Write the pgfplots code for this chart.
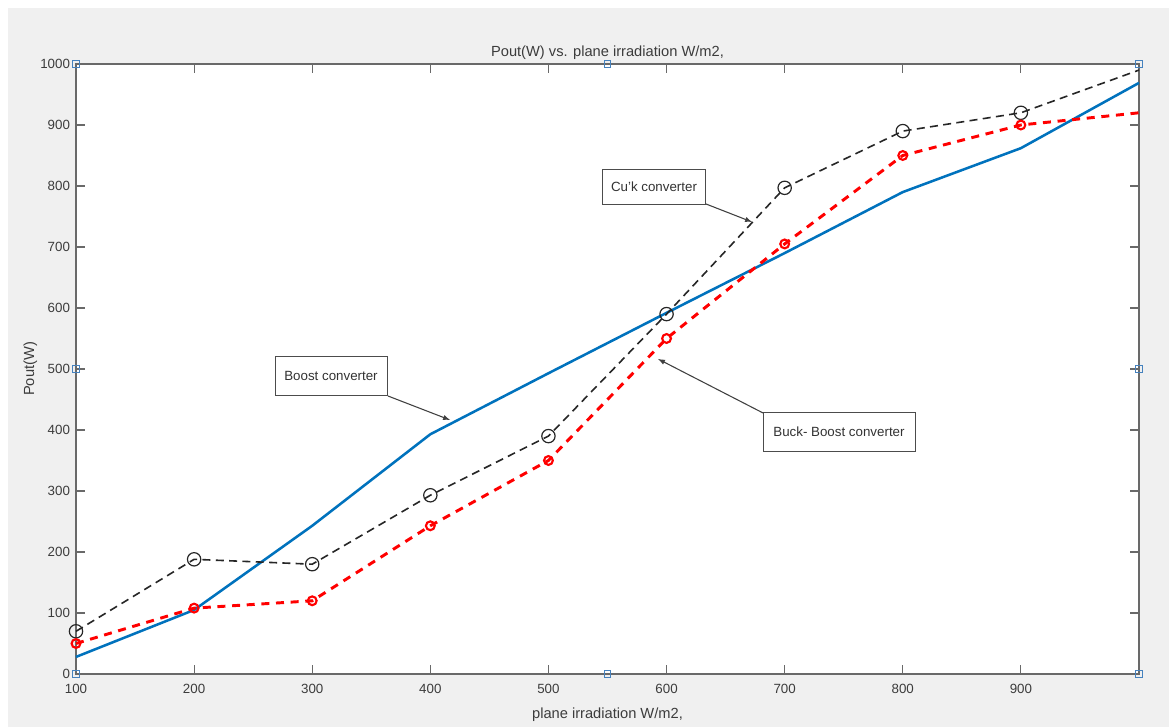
\documentclass[border=0pt]{standalone}
\usepackage{fontspec}
\setmainfont{Liberation Sans}
\usepackage{pgfplots}
\pgfplotsset{compat=1.18}
\definecolor{mblue}{RGB}{0,114,189}
\definecolor{figgray}{RGB}{240,240,240}
\definecolor{txt}{RGB}{60,60,60}
\definecolor{axc}{RGB}{105,105,105}
\definecolor{hdl}{RGB}{70,130,190}
\begin{document}
\begin{tikzpicture}
\fill[white] (-57pt,-39.75pt) rectangle (819.75pt,505.5pt);
\fill[figgray] (-51pt,-39.75pt) rectangle (819.75pt,499.5pt);
\begin{axis}[
  scale only axis,
  width=797.25pt, height=457.5pt,
  xmin=100, xmax=1000, ymin=0, ymax=1000,
  xtick={100,200,...,900},
  ytick={0,100,...,1000},
  tick align=inside,
  major tick length=6.5pt,
  axis background/.style={fill=white},
  axis line style={draw=axc, line width=1pt},
  every tick/.style={draw=axc, line width=0.8pt},
  tick label style={font=\fontsize{10}{12}\selectfont, text=txt},
  xticklabel style={yshift=-4pt},
  yticklabel style={xshift=-1pt},
  /pgf/number format/assume math mode=true,
  /pgf/number format/set thousands separator={},
  title={Pout(W) vs. plane irradiation W/m2,},
  title style={font=\fontsize{11}{13}\selectfont, text=txt, at={(axis description cs:0.5,1)}, anchor=south, yshift=-6.5pt},
  xlabel={plane irradiation W/m2,},
  xlabel style={font=\fontsize{11}{13}\selectfont, text=txt, at={(axis description cs:0.5,-0.066)}, anchor=center},
  ylabel={Pout(W)},
  ylabel style={font=\fontsize{11}{13}\selectfont, text=txt, at={(axis description cs:-0.043,0.5)}, anchor=center},
  clip=false,
]
% Boost converter
\addplot[mblue, line width=1.9pt, no marks] coordinates {
(100,28) (200,105) (300,243) (400,393) (500,493) (600,592) (700,690) (800,790) (900,862) (1000,969)};
% Cu'k converter
\addplot[black!85, line width=1.2pt, dash pattern=on 6pt off 4pt, mark=o, mark size=5pt, mark options={solid, line width=0.9pt}, mark indices={1,2,3,4,5,6,7,8,9}] coordinates {
(100,70) (200,188) (300,180) (400,293) (500,390) (600,590) (700,797) (800,890) (900,920) (1000,990)};
% Buck-Boost converter
\addplot[red, line width=2.2pt, dash pattern=on 6pt off 5pt, mark=o, mark size=3.3pt, mark options={solid, line width=1.6pt}, mark indices={1,2,3,4,5,6,7,8,9}] coordinates {
(100,50) (200,108) (300,120) (400,243) (500,350) (600,550) (700,705) (800,850) (900,900) (1000,920)};
% selection handles
\addplot[only marks, mark=square, mark size=2.4pt, mark options={draw=hdl, fill=white, line width=0.9pt}] coordinates {
(100,0) (550,0) (1000,0) (100,500) (1000,500) (100,1000) (550,1000) (1000,1000)};
% annotations
\node[draw=black!70, fill=white, line width=0.7pt, minimum width=84pt, minimum height=29pt, inner sep=0pt, font=\fontsize{10}{12}\selectfont, text=black!80] at (axis cs:315.9,488.5) {Boost converter};
\draw[-latex, line width=0.8pt, black!75] (axis cs:364.2,455.7) -- (axis cs:416.7,416.4);
\node[draw=black!70, fill=white, line width=0.7pt, minimum width=77pt, minimum height=26pt, inner sep=0pt, font=\fontsize{10}{12}\selectfont, text=black!80] at (axis cs:589.4,798) {Cu'k converter};
\draw[-latex, line width=0.8pt, black!75] (axis cs:633.4,770.5) -- (axis cs:672.4,741);
\node[draw=black!70, fill=white, line width=0.7pt, minimum width=114pt, minimum height=29pt, inner sep=0pt, font=\fontsize{10}{12}\selectfont, text=black!80] at (axis cs:746,396.7) {Buck- Boost converter};
\draw[-latex, line width=0.8pt, black!75] (axis cs:681.7,427.9) -- (axis cs:592.8,516.4);
\end{axis}
\end{tikzpicture}
\end{document}
